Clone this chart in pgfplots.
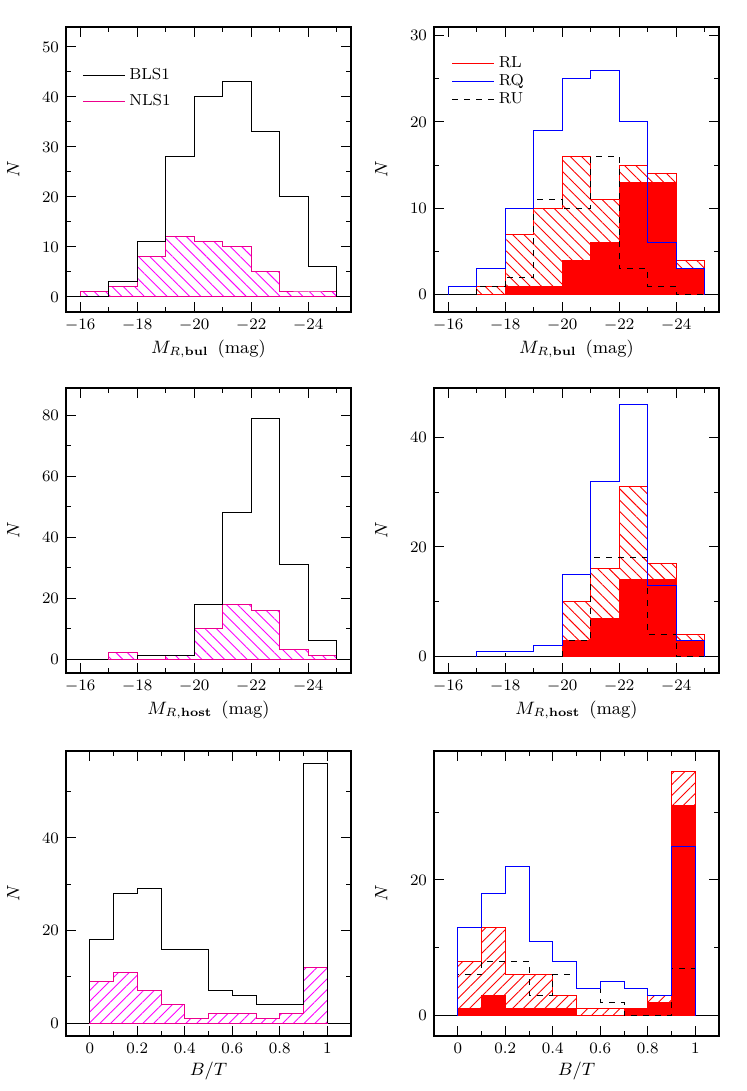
\documentclass[border=0pt]{standalone}
\usepackage{pgfplots}
\pgfplotsset{compat=1.18}
\usetikzlibrary{patterns.meta}

\pgfplotsset{
  legline/.style={legend image code/.code={\draw[line width=0.5bp,#1] (0bp,0bp) -- (21bp,0bp);}},
  hist/.style={
    width=142.5bp, height=142.5bp, scale only axis,
    tick align=inside, tick pos=both,
    major tick length=5bp, minor tick length=2.5bp,
    every tick/.style={black, line width=0.5bp},
    axis line style={line width=0.6bp},
    tick label style={font=\footnotesize},
    label style={font=\small},
    ylabel={$N$},
    xlabel shift=-2.5bp, ylabel shift=4.5bp,
    every axis plot/.append style={line width=0.5bp},
    legend cell align=left,
  },
  magax/.style={hist, x dir=reverse, xmin=-25.5, xmax=-15.5,
    xtick={-24,-22,-20,-18,-16}, minor xtick={-25,-23,-21,-19,-17}},
  btax/.style={hist, xmin=-0.1, xmax=1.1,
    xtick={0,0.2,0.4,0.6,0.8,1}, minor xtick={0.1,0.3,0.5,0.7,0.9},
    xlabel={$B/T$}},
  hatchA/.style={pattern={Lines[angle=-45,distance=4bp,line width=0.45bp]}},
  hatchB/.style={pattern={Lines[angle=45,distance=3.8bp,line width=0.45bp]}},
}

\begin{document}
\begin{tikzpicture}
\path[use as bounding box] (0,0) rectangle (373.5bp,-545.5bp);

% ---------- Panel 1 ----------
\begin{axis}[magax, at={(33bp,-13.5bp)}, anchor=north west,
  ymin=-3, ymax=54, ytick={0,10,20,30,40,50}, minor ytick={5,15,25,35,45},
  xlabel={$M_{R,\mathbf{bul}}$\enspace(mag)},
  legend style={draw=none, fill=none, at={(axis description cs:0.035,0.885)}, anchor=north west,
    font=\footnotesize, row sep=2bp}]
\addlegendimage{legline={black}}\addlegendentry{BLS1}
\addlegendimage{legline={magenta}}\addlegendentry{NLS1}
\addplot[black, forget plot] coordinates {(-25.5,0) (-15.5,0)};
\addplot[const plot mark left, draw=magenta, hatchA, pattern color=magenta, forget plot] coordinates {
(-16,1) (-17,2) (-18,8) (-19,12) (-20,11) (-21,10) (-22,5) (-23,1) (-24,1) (-25,1)} \closedcycle;
\addplot[const plot mark left, black, forget plot] coordinates {
(-16,0) (-17,3) (-18,11) (-19,28) (-20,40) (-21,43) (-22,33) (-23,20) (-24,6) (-25,6) (-25,0)};
\end{axis}

% ---------- Panel 2 ----------
\begin{axis}[magax, at={(217bp,-13.5bp)}, anchor=north west,
  ymin=-2, ymax=31, ytick={0,10,20,30}, minor ytick={5,15,25},
  xlabel={$M_{R,\mathbf{bul}}$\enspace(mag)},
  legend style={draw=none, fill=none, at={(axis description cs:0.04,0.925)}, anchor=north west,
    font=\footnotesize, row sep=-2bp}]
\addlegendimage{legline={red}}\addlegendentry{RL}
\addlegendimage{legline={blue}}\addlegendentry{RQ}
\addlegendimage{legline={black,dashed}}\addlegendentry{RU}
\addplot[black, forget plot] coordinates {(-25.5,0) (-15.5,0)};
\addplot[const plot mark left, draw=red, hatchA, pattern color=red, forget plot] coordinates {
(-17,1) (-18,7) (-19,10) (-20,16) (-21,11) (-22,15) (-23,14) (-24,4) (-25,4)} \closedcycle;
\addplot[const plot mark left, draw=red, fill=red, forget plot] coordinates {
(-18,1) (-19,1) (-20,4) (-21,6) (-22,13) (-23,13) (-24,3) (-25,3)} \closedcycle;
\addplot[const plot mark left, black, dashed, forget plot] coordinates {
(-17,0) (-17,1) (-18,2) (-19,11) (-20,10) (-21,16) (-22,3) (-23,1) (-24,0) (-25,0)};
\addplot[const plot mark left, blue, forget plot] coordinates {
(-16,0) (-16,1) (-17,3) (-18,10) (-19,19) (-20,25) (-21,26) (-22,20) (-23,6) (-24,3) (-25,3) (-25,0)};
\end{axis}

% ---------- Panel 3 ----------
\begin{axis}[magax, at={(33bp,-194bp)}, anchor=north west,
  ymin=-4.6, ymax=89, ytick={0,20,40,60,80}, minor ytick={10,30,50,70},
  xlabel={$M_{R,\mathbf{host}}$\enspace(mag)}]
\addplot[black, forget plot] coordinates {(-25.5,0) (-15.5,0)};
\addplot[const plot mark left, draw=magenta, hatchA, pattern color=magenta, forget plot] coordinates {
(-17,2) (-18,0) (-19,1) (-20,10) (-21,18) (-22,16) (-23,3) (-24,1) (-25,1)} \closedcycle;
\addplot[const plot mark left, black, forget plot] coordinates {
(-18,0) (-18,1) (-19,1) (-20,18) (-21,48) (-22,79) (-23,31) (-24,6) (-25,6) (-25,0)};
\end{axis}

% ---------- Panel 4 ----------
\begin{axis}[magax, at={(217bp,-194bp)}, anchor=north west,
  ymin=-3, ymax=49, ytick={0,20,40}, minor ytick={10,30},
  xlabel={$M_{R,\mathbf{host}}$\enspace(mag)}]
\addplot[black, forget plot] coordinates {(-25.5,0) (-15.5,0)};
\addplot[const plot mark left, draw=red, hatchA, pattern color=red, forget plot] coordinates {
(-20,10) (-21,16) (-22,31) (-23,17) (-24,4) (-25,4)} \closedcycle;
\addplot[const plot mark left, draw=red, fill=red, forget plot] coordinates {
(-20,3) (-21,7) (-22,14) (-23,14) (-24,3) (-25,3)} \closedcycle;
\addplot[const plot mark left, black, dashed, forget plot] coordinates {
(-17,0) (-17,1) (-18,0) (-19,0) (-20,3) (-21,18) (-22,18) (-23,4) (-24,0) (-25,0)};
\addplot[const plot mark left, blue, forget plot] coordinates {
(-17,0) (-17,1) (-18,1) (-19,2) (-20,15) (-21,32) (-22,46) (-23,13) (-24,3) (-25,3) (-25,0)};
\end{axis}

% ---------- Panel 5 ----------
\begin{axis}[btax, at={(33bp,-375.5bp)}, anchor=north west,
  ymin=-2.8, ymax=58.8, ytick={0,20,40}, minor ytick={10,30,50}]
\addplot[black, forget plot] coordinates {(-0.1,0) (1.1,0)};
\addplot[const plot mark left, draw=magenta, hatchB, pattern color=magenta, forget plot] coordinates {
(0,9) (0.1,11) (0.2,7) (0.3,4) (0.4,1) (0.5,2) (0.6,2) (0.7,1) (0.8,2) (0.9,12) (1,12)} \closedcycle;
\addplot[const plot mark left, black, forget plot] coordinates {
(0,0) (0,18) (0.1,28) (0.2,29) (0.3,16) (0.4,16) (0.5,7) (0.6,6) (0.7,4) (0.8,4) (0.9,56) (1,56) (1,0)};
\end{axis}

% ---------- Panel 6 ----------
\begin{axis}[btax, at={(217bp,-375.5bp)}, anchor=north west,
  ymin=-3, ymax=39, ytick={0,20}, minor ytick={10,30}]
\addplot[black, forget plot] coordinates {(-0.1,0) (1.1,0)};
\addplot[const plot mark left, draw=red, hatchB, pattern color=red, forget plot] coordinates {
(0,8) (0.1,13) (0.2,6) (0.3,6) (0.4,3) (0.5,1) (0.6,1) (0.7,1) (0.8,3) (0.9,36) (1,36)} \closedcycle;
\addplot[const plot mark left, draw=red, fill=red, forget plot] coordinates {
(0,1) (0.1,3) (0.2,1) (0.3,1) (0.4,1) (0.5,0) (0.6,0) (0.7,1) (0.8,2) (0.9,31) (1,31)} \closedcycle;
\addplot[const plot mark left, black, dashed, forget plot] coordinates {
(0,0) (0,6) (0.1,8) (0.2,8) (0.3,3) (0.4,6) (0.5,4) (0.6,2) (0.7,0) (0.8,0) (0.9,7) (1,7) (1,0)};
\addplot[const plot mark left, blue, forget plot] coordinates {
(0,0) (0,13) (0.1,18) (0.2,22) (0.3,11) (0.4,8) (0.5,4) (0.6,5) (0.7,4) (0.8,3) (0.9,25) (1,25) (1,0)};
\end{axis}
\end{tikzpicture}
\end{document}
